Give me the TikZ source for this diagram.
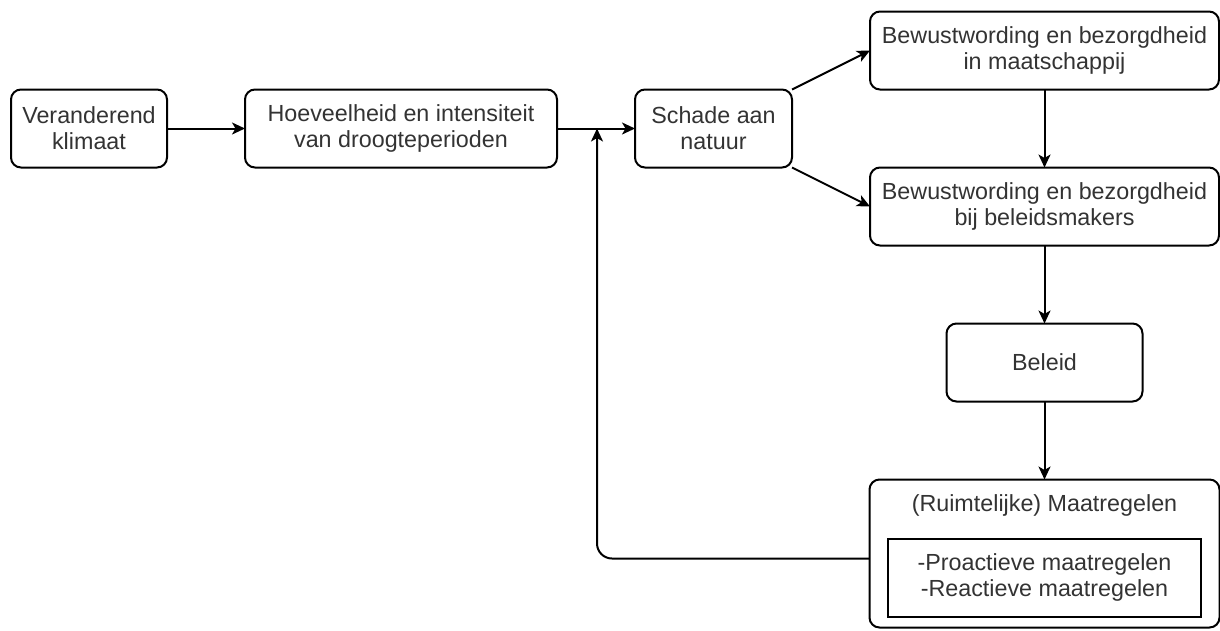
\documentclass[tikz,border=0pt]{standalone}
\usepackage{fontspec}
\setmainfont{Liberation Sans}
\usetikzlibrary{arrows.meta,positioning}
\definecolor{ink}{HTML}{000000}
\definecolor{txt}{HTML}{333333}
\tikzset{
  every node/.style={font=\fontsize{23.3}{26}\selectfont, text=txt},
  box/.style={draw=ink, rounded corners=10pt, line width=2pt, fill=white, align=center, minimum height=78pt, inner sep=4pt, outer sep=0pt},
  listbox/.style={draw=ink, line width=2pt, align=center, minimum width=313pt, minimum height=78pt, outer sep=0pt},
  arrow/.style={-{Stealth[length=13pt,width=12pt,inset=3.5pt]}, line width=2pt, draw=ink},
}
\begin{document}
\begin{tikzpicture}[node distance=78pt]
\useasboundingbox (0pt,0pt) rectangle (1220pt,-630pt);
\node[box, minimum width=156pt] (klimaat) at (89pt,-128.5pt) {Veranderend\\klimaat};
\node[box, minimum width=312pt, right=of klimaat] (droogte) {Hoeveelheid en intensiteit\\van droogteperioden};
\node[box, minimum width=157pt, right=of droogte] (schade) {Schade aan\\natuur};
\node[box, minimum width=349pt, anchor=south west] (maatsch) at ([xshift=78pt]schade.north east) {Bewustwording en bezorgdheid\\in maatschappij};
\node[box, minimum width=349pt, below=of maatsch] (beleidsm) {Bewustwording en bezorgdheid\\bij beleidsmakers};
\node[box, minimum width=196pt, below=of beleidsm] (beleid) {Beleid};
\node[box, minimum width=350pt, minimum height=148pt, below=of beleid] (maatr) {};
\node[inner sep=0pt, below=15pt of maatr.north] (maatrtitel) {(Ruimtelijke) Maatregelen};
\node[listbox, below=59pt of maatr.north] (maatrlijst) {-Proactieve maatregelen\\-Reactieve maatregelen};
\coordinate (terug) at ([xshift=40pt]droogte.east);
\draw[arrow] (klimaat) -- (droogte);
\draw[arrow] (droogte) -- (schade);
\draw[arrow] (schade.north east) -- (maatsch.west);
\draw[arrow] (schade.south east) -- (beleidsm.west);
\draw[arrow] (maatsch) -- (beleidsm);
\draw[arrow] (beleidsm) -- (beleid);
\draw[arrow] (beleid) -- (maatr);
\draw[arrow, rounded corners=15pt] ([yshift=-5pt]maatr.west) -| (terug);
\end{tikzpicture}
\end{document}
